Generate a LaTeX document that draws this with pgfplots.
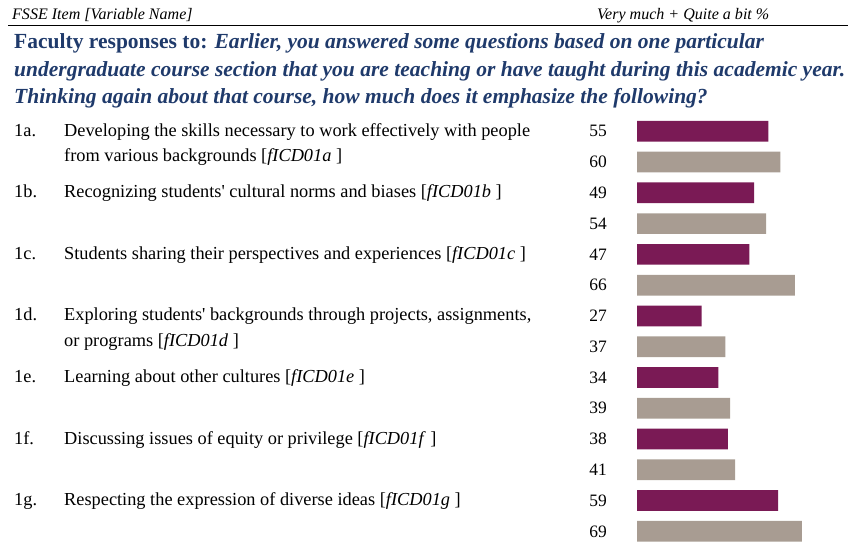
\documentclass[border=0pt]{standalone}
\usepackage{pgfplots}
\pgfplotsset{compat=1.18}
\usepackage{fontspec}
\setmainfont{Liberation Serif}
\definecolor{fpurple}{HTML}{7A1A55}
\definecolor{fgray}{HTML}{A89C92}
\definecolor{fnavy}{HTML}{1F3A6B}
\newcommand{\hdrfont}{\fontsize{16.1}{18}\selectfont\itshape}
\newcommand{\ttlfont}{\fontsize{21.6}{25}\selectfont\bfseries}
\newcommand{\itmfont}{\fontsize{18.4}{21}\selectfont}
\newcommand{\numfont}{\fontsize{17.5}{20}\selectfont}
\newcommand{\q}{\textquotesingle}
\begin{document}
\begin{tikzpicture}[x=1bp,y=1bp]
\useasboundingbox (0,0) rectangle (848,-543);
% header
\node[anchor=base west, inner sep=0pt, font=\hdrfont] at (12,-20) {FSSE Item [Variable Name]};
\node[anchor=base west, inner sep=0pt, font=\hdrfont] at (597,-20) {Very much + Quite a bit \%};
\draw[line width=1.6bp] (8,-25.5) -- (848,-25.5);
% title
\node[anchor=base west, inner sep=0pt, font=\ttlfont, text=fnavy] at (14,-49) {Faculty responses to: \textit{Earlier, you answered some questions based on one particular}};
\node[anchor=base west, inner sep=0pt, font=\ttlfont, text=fnavy] at (14,-77) {\textit{undergraduate course section that you are teaching or have taught during this academic year.}};
\node[anchor=base west, inner sep=0pt, font=\ttlfont, text=fnavy] at (14,-104) {\textit{Thinking again about that course, how much does it emphasize the following?}};
% items
\begin{scope}[every node/.style={anchor=base west, inner sep=0pt, font=\itmfont}]
\node at (14,-136.5) {1a.};
\node at (64,-136.5) {Developing the skills necessary to work effectively with people};
\node at (64,-162) {from various backgrounds [\textit{fICD01a} ]};
\node at (14,-198) {1b.};
\node at (64,-198) {Recognizing students\q{} cultural norms and biases [\textit{fICD01b} ]};
\node at (14,-259.5) {1c.};
\node at (64,-259.5) {Students sharing their perspectives and experiences [\textit{fICD01c} ]};
\node at (14,-321) {1d.};
\node at (64,-321) {Exploring students\q{} backgrounds through projects, assignments,};
\node at (64,-346.5) {or programs [\textit{fICD01d} ]};
\node at (14,-382.5) {1e.};
\node at (64,-382.5) {Learning about other cultures [\textit{fICD01e} ]};
\node at (14,-444) {1f.};
\node at (64,-444) {Discussing issues of equity or privilege [\textit{fICD01f} ]};
\node at (14,-505.5) {1g.};
\node at (64,-505.5) {Respecting the expression of diverse ideas [\textit{fICD01g} ]};
\end{scope}
\begin{axis}[
  at={(637bp,-115.9bp)}, anchor=north west,
  scale only axis, width=203.15bp, height=430.8bp,
  xmin=0, xmax=85, ymin=0.5, ymax=14.5, y dir=reverse,
  xbar, bar width=20.7bp, bar shift=0pt,
  axis line style={draw=none}, major tick length=0pt,
  xtick=\empty, ytick={1,...,14},
  yticklabels={55,60,49,54,47,66,27,37,34,39,38,41,59,69},
  yticklabel style={font=\numfont, anchor=east, inner sep=0pt, xshift=-30bp},
  clip=false,
]
\addplot[draw=none, fill=fpurple] coordinates {(55,1) (49,3) (47,5) (27,7) (34,9) (38,11) (59,13)};
\addplot[draw=none, fill=fgray] coordinates {(60,2) (54,4) (66,6) (37,8) (39,10) (41,12) (69,14)};
\end{axis}
\end{tikzpicture}
\end{document}
